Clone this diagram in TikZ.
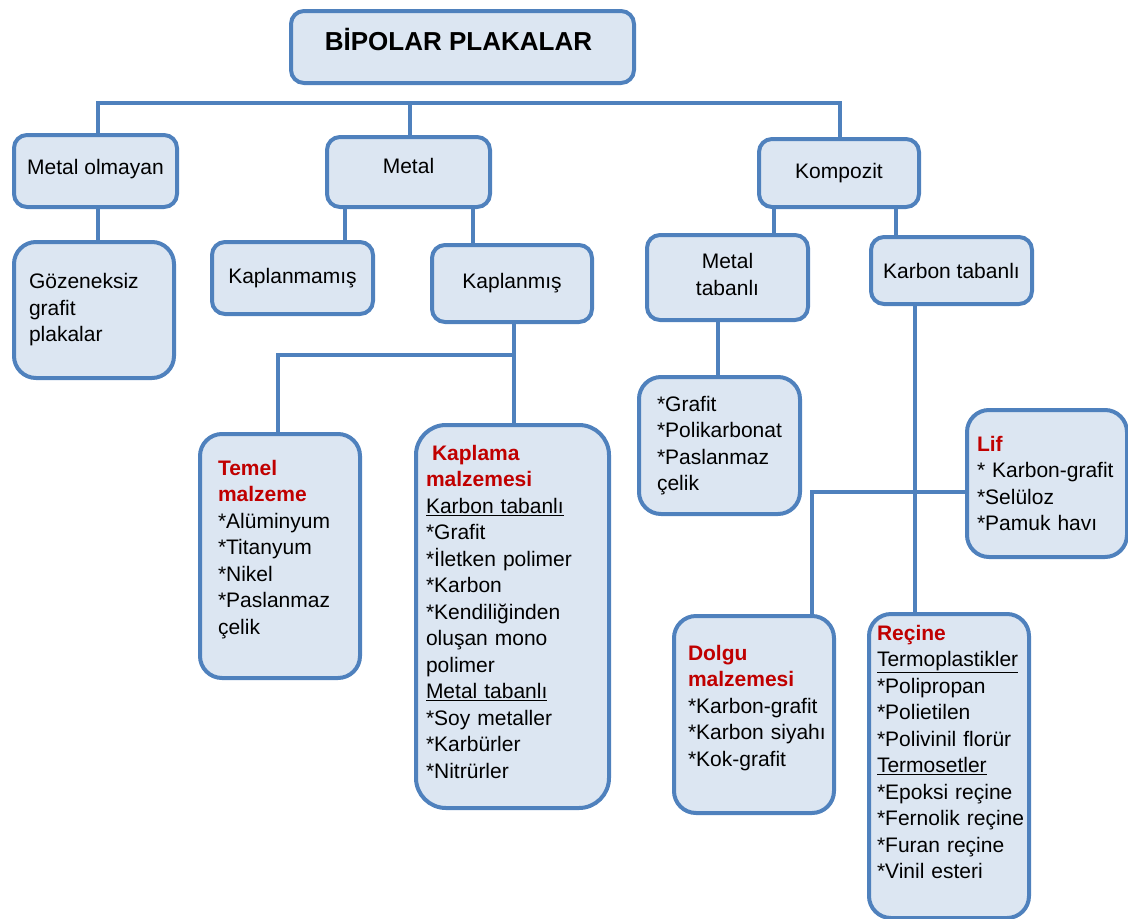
\documentclass[tikz,border=0pt]{standalone}
\usepackage{fontspec}
\setmainfont{Liberation Sans}
\definecolor{boxline}{HTML}{4F81BD}
\definecolor{boxfill}{HTML}{DCE6F2}
\definecolor{headred}{HTML}{C00000}
\tikzstyle{link} = [draw=boxline, line width=4.5pt]
\tikzstyle{box} = [rectangle, rounded corners=13pt, draw=boxline, fill=boxfill, line width=4pt, anchor=north west, inner sep=0pt, font=\fontsize{21}{26.5}\selectfont]
\tikzset{
	catbox/.style 2 args = {box, minimum width=#1, minimum height=#2, align=center},
	listbox/.style n args = {3}{box, rounded corners=22pt,
		minimum width=#1, minimum height=#2, inner xsep=#3,
		text width=#1-2*#3, align=left},
}
\newcommand\head[1]{\textcolor{headred}{\textbf{#1}}}
% extra depth under the last line lifts the text in its box
\newcommand\padbelow[1]{\rule[-#1]{0pt}{#1}}
\begin{document}
\begin{tikzpicture}[x=1pt, y=-1pt]
\useasboundingbox (0,0) rectangle (1128,919);
% Placement of nodes
\node (title) [catbox={343pt}{72pt}, font=\fontsize{26}{31}\selectfont\bfseries] at (289,9) {BİPOLAR PLAKALAR\hspace*{8pt}\padbelow{16pt}};

\node (nonmetal) [catbox={163pt}{72pt}] at (12,133) {Metal olmayan\padbelow{8pt}};
\node (gozen) [listbox={160pt}{136pt}{15pt}] at (12,240) {Gözeneksiz\\grafit\\plakalar\padbelow{4pt}};

\node (metal) [catbox={163pt}{70pt}] at (325,135) {Metal\padbelow{12pt}};
\node (uncoated) [catbox={161pt}{72pt}] at (210,240) {Kaplanmamış};
\node (coated) [catbox={160pt}{77pt}] at (430,243) {Kaplanmış\padbelow{6pt}};
\node (base) [listbox={160pt}{244pt}{18pt}] at (198,432) {\head{Temel}\\\head{malzeme}\\{}*Alüminyum\\{}*Titanyum\\{}*Nikel\\{}*Paslanmaz\\çelik\padbelow{18pt}};
\node (coating) [listbox={193pt}{383pt}{10pt}, rounded corners=30pt] at (414,423) {\hspace*{6pt}\head{Kaplama}\\\head{malzemesi}\\\underline{Karbon~tabanlı}\\{}*Grafit\\{}*İletken~polimer\\{}*Karbon\\{}*Kendiliğinden\\oluşan~mono\\polimer\\\underline{Metal~tabanlı}\\{}*Soy~metaller\\{}*Karbürler\\{}*Nitrürler\padbelow{10pt}};

\node (komp) [catbox={160pt}{68pt}] at (757,137) {Kompozit};
\node (metbase) [catbox={161pt}{85pt}] at (645,233) {Metal\\tabanlı\padbelow{6pt}};
\node (carbbase) [catbox={161pt}{67pt}] at (869,235) {Karbon tabanlı};
\node (metlist) [listbox={161pt}{137pt}{18pt}] at (637,375) {*Grafit\\{}*Polikarbonat\\{}*Paslanmaz\\çelik};
\node (fiber) [listbox={160pt}{147pt}{10pt}] at (965,408) {\head{Lif}\\{}*~Karbon-grafit\\{}*Selüloz\\{}*Pamuk~havı};
\node (filler) [listbox={160pt}{197pt}{14pt}] at (672,614) {\head{Dolgu}\\\head{malzemesi}\\{}*Karbon-grafit\\{}*Karbon~siyahı\\{}*Kok-grafit\padbelow{18pt}};
\node (resin) [listbox={160pt}{304pt}{8pt}] at (867,612) {\head{Reçine}\\\underline{Termoplastikler}\\{}*Polipropan\\{}*Polietilen\\{}*Polivinil~florür\\\underline{Termosetler}\\{}*Epoksi~reçine\\{}*Fernolik~reçine\\{}*Furan~reçine\\{}*Vinil~esteri\padbelow{28pt}};

% Placement of edges
\coordinate (busL) at (98,103);
\coordinate (busM) at (410,103);
\coordinate (busR) at (840,103);
\draw [link] (busL |- nonmetal.north) -- (busL) -- (busR) -- (busR |- komp.north);
\draw [link] (busM) -- (busM |- metal.north);
\draw [link] (busL |- nonmetal.south) -- (busL |- gozen.north);

% metal branch
\coordinate (xUnc) at (345,0);
\coordinate (xCoat) at (473,0);
\draw [link] (metal.south -| xUnc) -- (uncoated.north -| xUnc);
\draw [link] (metal.south -| xCoat) -- (coated.north -| xCoat);
\coordinate (split) at (514,355);
\coordinate (xBase) at (278,0);
\draw [link] (coated.south -| split) -- (split) -- (split -| xBase) -- (base.north -| xBase);
\draw [link] (split) -- (coating.north -| split);

% kompozit branch
\coordinate (xMB) at (774,0);
\coordinate (xCB) at (896,0);
\coordinate (xML) at (718,0);
\coordinate (xRes) at (915,0);
\draw [link] (komp.south -| xMB) -- (metbase.north -| xMB);
\draw [link] (komp.south -| xCB) -- (carbbase.north -| xCB);
\draw [link] (metbase.south -| xML) -- (metlist.north -| xML);
\draw [link] (carbbase.south -| xRes) -- (resin.north -| xRes);
\coordinate (cross) at (812,492);
\draw [link] (fiber.west |- cross) -- (cross) -- (filler.north -| cross);
\end{tikzpicture}
\end{document}
